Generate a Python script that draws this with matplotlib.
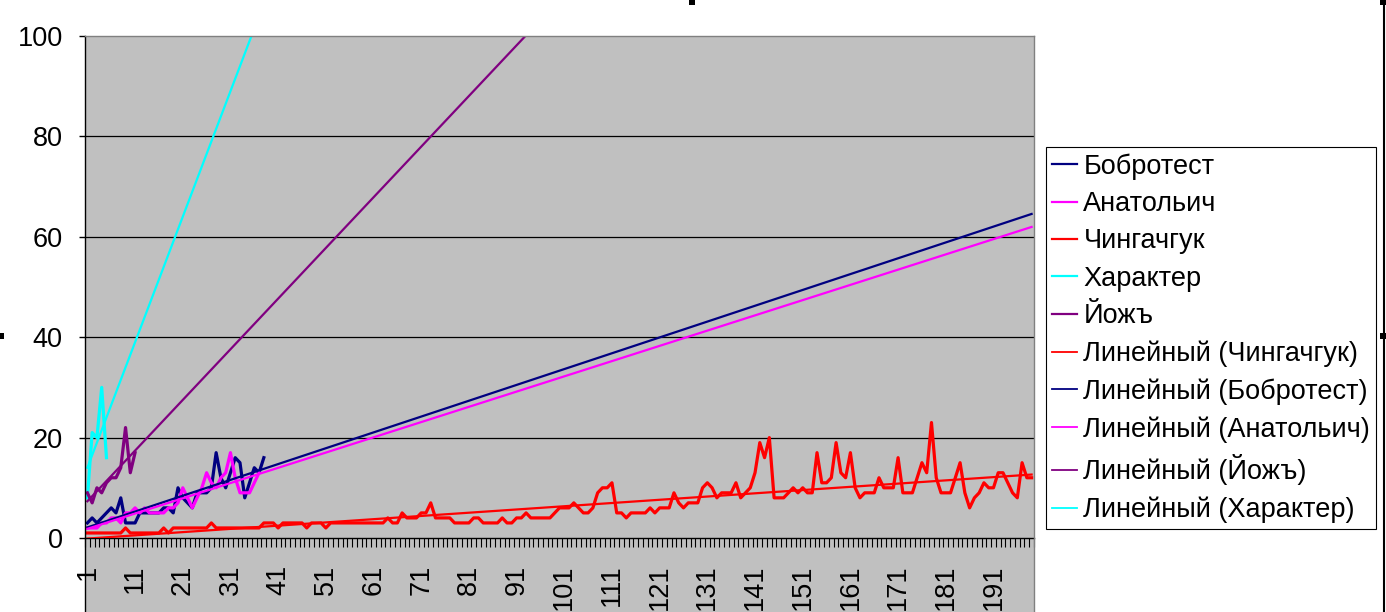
import matplotlib
matplotlib.use("Agg")
import matplotlib.pyplot as plt
import numpy as np
from matplotlib.patches import Rectangle
from matplotlib.lines import Line2D

plt.rcParams['font.family'] = ['Liberation Sans', 'DejaVu Sans']

# ---------------- data ----------------
n_categories = 199
y_ticks = [0, 20, 40, 60, 80, 100]
x_tick_labels = [1, 11, 21, 31, 41, 51, 61, 71, 81, 91, 101, 111, 121, 131, 141, 151, 161, 171, 181, 191]

series_names = ["Бобротест", "Анатольич", "Чингачгук", "Характер", "Йожъ"]
trend_names = ["Линейный (Чингачгук)", "Линейный (Бобротест)", "Линейный (Анатольич)",
               "Линейный (Йожъ)", "Линейный (Характер)"]

bobrotest = [3, 4, 3, 4, 5, 6, 5, 8, 3, 3,
             3, 5, 5, 5, 5, 5, 6, 6, 5, 10,
             8, 7, 6, 9, 9, 9, 10, 17, 12, 10,
             13, 16, 15, 8, 11, 14, 13, 16]

anatolich = [2, 2, 2, 3, 3, 4, 4, 3, 5, 5,
             6, 5, 6, 5, 5, 5, 5, 6, 6, 7,
             10, 8, 6, 8, 10, 13, 11, 10, 12, 13,
             17, 12, 9, 9, 9, 11, 13]

chingachguk = [1, 1, 1, 1, 1, 1, 1, 1, 2, 1,
               1, 1, 1, 1, 1, 1, 2, 1, 2, 2,
               2, 2, 2, 2, 2, 2, 3, 2, 2, 2,
               2, 2, 2, 2, 2, 2, 2, 3, 3, 3,
               2, 3, 3, 3, 3, 3, 2, 3, 3, 3,
               2, 3, 3, 3, 3, 3, 3, 3, 3, 3,
               3, 3, 3, 4, 3, 3, 5, 4, 4, 4,
               5, 5, 7, 4, 4, 4, 4, 3, 3, 3,
               3, 4, 4, 3, 3, 3, 3, 4, 3, 3,
               4, 4, 5, 4, 4, 4, 4, 4, 5, 6,
               6, 6, 7, 6, 5, 5, 6, 9, 10, 10,
               11, 5, 5, 4, 5, 5, 5, 5, 6, 5,
               6, 6, 6, 9, 7, 6, 7, 7, 7, 10,
               11, 10, 8, 9, 9, 9, 11, 8, 9, 10,
               13, 19, 16, 20, 8, 8, 8, 9, 10, 9,
               10, 9, 9, 17, 11, 11, 12, 19, 13, 12,
               17, 10, 8, 9, 9, 9, 12, 10, 10, 10,
               16, 9, 9, 9, 12, 15, 13, 23, 12, 9,
               9, 9, 12, 15, 9, 6, 8, 9, 11, 10,
               10, 13, 13, 11, 9, 8, 15, 12, 12]

kharakter = [8, 21, 20, 30, 16]

yozh = [9, 7, 10, 9, 11, 12, 12, 14, 22, 13, 17]

colors = {"Бобротест": "#000080", "Анатольич": "#FF00FF", "Чингачгук": "#FF0000",
          "Характер": "#00FFFF", "Йожъ": "#800080"}
data = {"Бобротест": bobrotest, "Анатольич": anatolich, "Чингачгук": chingachguk,
        "Характер": kharakter, "Йожъ": yozh}
trend_order = ["Чингачгук", "Бобротест", "Анатольич", "Йожъ", "Характер"]

# ---------------- figure ----------------
W, H = 1386, 612
fig = plt.figure(figsize=(W / 100, H / 100), dpi=100)
fig.patch.set_facecolor("white")


def fx(px):
    return px / W


def fy(py):
    return 1 - py / H


L, R, T, B = 85, 1034, 36, 538
# grey plot area (extends below the category axis, as in the reference)
fig.add_artist(Rectangle((fx(L), 0), fx(R) - fx(L), fy(T), transform=fig.transFigure,
                         facecolor="#C0C0C0", edgecolor="none", zorder=-5))

ax = fig.add_axes([fx(L), fy(B), fx(R) - fx(L), fy(T) - fy(B)])
ax.set_facecolor("none")
ax.set_xlim(0.5, n_categories + 0.5)
ax.set_ylim(0, 100)

for v in y_ticks[1:-1]:
    ax.axhline(v, color="black", lw=0.9, zorder=1)

fs = 19.5
# data lines
for name in series_names:
    y = np.array(data[name], dtype=float)
    x = np.arange(1, len(y) + 1)
    ax.plot(x, y, color=colors[name], lw=2.3, solid_joinstyle="round", zorder=3)

# linear trend lines across the full category range
xs_full = np.arange(1, n_categories + 1)
for name in trend_order:
    y = np.array(data[name], dtype=float)
    x = np.arange(1, len(y) + 1)
    k, b = np.polyfit(x, y, 1)
    ax.plot(xs_full, k * xs_full + b, color=colors[name], lw=1.6, zorder=4)

# spines
for s in ["top", "right"]:
    ax.spines[s].set_visible(False)
ax.spines["left"].set_visible(False)
ax.spines["bottom"].set_color("black")
ax.spines["bottom"].set_linewidth(1.0)

# axis lines / borders in figure coords
fig.add_artist(Line2D([fx(L), fx(L)], [0, fy(T)], transform=fig.transFigure, color="black", lw=1.0, zorder=5))
fig.add_artist(Line2D([fx(L), fx(R)], [fy(T), fy(T)], transform=fig.transFigure, color="#808080", lw=1.0, zorder=5))
fig.add_artist(Line2D([fx(R), fx(R)], [0, fy(T)], transform=fig.transFigure, color="#808080", lw=1.0, zorder=5))

# y axis
ax.set_yticks(y_ticks)
ax.set_yticklabels([str(v) for v in y_ticks], fontsize=fs)
ax.tick_params(axis="y", direction="out", length=4, width=1, pad=12, color="black")

# x axis
ax.set_xticks(x_tick_labels)
ax.set_xticklabels([str(v) for v in x_tick_labels], rotation=90, fontsize=fs, va="top", ha="center")
ax.set_xticks(np.arange(0.5, n_categories + 1, 1), minor=True)
ax.tick_params(axis="x", which="major", length=0, pad=19)
ax.tick_params(axis="x", which="minor", direction="out", length=6.5, width=0.8, color="black")

# legend
handles = [Line2D([], [], color=colors[n], lw=1.6) for n in series_names]
handles += [Line2D([], [], color=colors[n], lw=1.3) for n in trend_order]
labels = series_names + trend_names
leg = fig.legend(handles, labels, loc="upper left", bbox_to_anchor=(fx(1046), fy(147)),
                 bbox_transform=fig.transFigure, borderaxespad=0, frameon=True, fancybox=False,
                 edgecolor="black", framealpha=1, fontsize=fs, handlelength=0.93,
                 handletextpad=0.22, borderpad=0.23, labelspacing=0.42)
leg.get_frame().set_linewidth(0.8)

# chart border and selection handles
fig.add_artist(Line2D([fx(1383.5), fx(1383.5)], [0, 1], transform=fig.transFigure, color="black", lw=1.5))
for (hx, hy, hw, hh) in [(689, 0, 6, 5), (1380, 0, 6, 5), (1380, 333, 6, 6), (0, 333, 4, 6)]:
    fig.add_artist(Rectangle((fx(hx), fy(hy + hh)), hw / W, hh / H, transform=fig.transFigure,
                             facecolor="black", edgecolor="none"))

fig.savefig("out.png", dpi=100)
